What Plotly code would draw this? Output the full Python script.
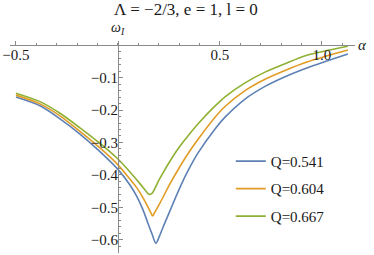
import plotly.graph_objects as go

# ---- data ----
series_names = ["Q=0.541", "Q=0.604", "Q=0.667"]
series_colors = ["#5E81B5", "#E19C24", "#8FB032"]

alpha_q1 = [-0.500, -0.382, -0.284, -0.186, -0.088, 0.000, 0.059, 0.093, 0.123, 0.147, 0.167,
            0.186, 0.206, 0.230, 0.255, 0.294, 0.343, 0.392, 0.475, 0.525, 0.623, 0.721,
            0.819, 0.926, 1.127]
omega_q1 = [-0.160, -0.187, -0.227, -0.274, -0.328, -0.383, -0.431, -0.467, -0.508, -0.549, -0.582,
            -0.611, -0.585, -0.548, -0.511, -0.453, -0.388, -0.333, -0.259, -0.222, -0.166, -0.127,
            -0.097, -0.070, -0.027]

alpha_q2 = [-0.500, -0.382, -0.284, -0.186, -0.088, 0.000, 0.059, 0.093, 0.123, 0.147, 0.162,
            0.170, 0.181, 0.206, 0.255, 0.294, 0.343, 0.392, 0.475, 0.525, 0.623, 0.721,
            0.819, 0.926, 1.127]
omega_q2 = [-0.154, -0.181, -0.218, -0.266, -0.317, -0.369, -0.413, -0.440, -0.471, -0.499, -0.518,
            -0.527, -0.515, -0.487, -0.428, -0.385, -0.335, -0.291, -0.223, -0.189, -0.140, -0.105,
            -0.078, -0.052, -0.015]

alpha_q3 = [-0.500, -0.382, -0.284, -0.186, -0.088, 0.000, 0.059, 0.108, 0.137, 0.152, 0.167,
            0.181, 0.196, 0.221, 0.245, 0.294, 0.343, 0.392, 0.475, 0.525, 0.623, 0.721,
            0.819, 0.926, 1.127]
omega_q3 = [-0.148, -0.174, -0.210, -0.255, -0.303, -0.351, -0.391, -0.427, -0.450, -0.460, -0.457,
            -0.442, -0.422, -0.394, -0.368, -0.320, -0.280, -0.243, -0.188, -0.159, -0.116, -0.083,
            -0.057, -0.031, -0.003]

x_tickvals = [-0.5, 0.5, 1.0]
x_ticktext = ["\u22120.5", "0.5", "1.0"]
y_tickvals = [-0.6, -0.5, -0.4, -0.3, -0.2, -0.1]
y_ticktext = ["\u22120.6", "\u22120.5", "\u22120.4", "\u22120.3", "\u22120.2", "\u22120.1"]

title_text = "\u039b = \u22122/3, e = 1, l = 0"
x_label = "<i>\u03b1</i>"
y_label = "<i>\u03c9<sub>I</sub></i>"

X_RANGE = [-0.529, 1.162]
Y_RANGE = [-0.641, 0.013]

FONT = "Liberation Serif"
AXIS_COLOR = "#8a8a8a"
TEXT_COLOR = "#1a1a1a"

fig = go.Figure()
for a, w, name, col in zip([alpha_q1, alpha_q2, alpha_q3],
                           [omega_q1, omega_q2, omega_q3],
                           series_names, series_colors):
    fig.add_trace(go.Scatter(x=a, y=w, mode="lines", name=name, legendgroup=name,
                             line=dict(color=col, width=1.6, shape="spline", smoothing=0.8)))

# paper fractions where the axes cross zero (axes drawn through the origin)
x_pos = (0 - Y_RANGE[0]) / (Y_RANGE[1] - Y_RANGE[0])
y_pos = (0 - X_RANGE[0]) / (X_RANGE[1] - X_RANGE[0])

fig.update_layout(
    template="none",
    width=374, height=255,
    margin=dict(l=10, r=19, t=41, b=2, autoexpand=False),
    paper_bgcolor="white", plot_bgcolor="white",
    font=dict(family=FONT, size=14, color=TEXT_COLOR),
    title=dict(text=title_text, x=0.51, xanchor="center", xref="paper",
               y=0.966, yanchor="middle", yref="container",
               font=dict(family=FONT, size=17, color=TEXT_COLOR)),
    showlegend=True,
    legend=dict(x=0.64, y=0.51, xanchor="left", yanchor="top", bgcolor="rgba(0,0,0,0)",
                font=dict(family=FONT, size=15, color=TEXT_COLOR), tracegroupgap=5,
                itemwidth=30, borderwidth=0),
    xaxis=dict(range=X_RANGE, anchor="free", position=x_pos, side="bottom", automargin=False,
               showgrid=False, zeroline=False, showline=True, linecolor=AXIS_COLOR, linewidth=1,
               tickvals=x_tickvals, ticktext=x_ticktext, ticks="inside", ticklen=4,
               ticklabelstandoff=-4,
               tickcolor=AXIS_COLOR, tickfont=dict(family=FONT, size=15, color=TEXT_COLOR),
               minor=dict(dtick=0.1, tick0=0, ticks="inside", ticklen=2.5, tickcolor=AXIS_COLOR,
                          showgrid=False)),
    yaxis=dict(range=Y_RANGE, anchor="free", position=y_pos, side="left", automargin=False,
               showgrid=False, zeroline=False, showline=True, linecolor=AXIS_COLOR, linewidth=1,
               tickvals=y_tickvals, ticktext=y_ticktext, ticks="inside", ticklen=4,
               ticklabelstandoff=-3,
               tickcolor=AXIS_COLOR, tickfont=dict(family=FONT, size=15, color=TEXT_COLOR),
               minor=dict(dtick=0.02, tick0=0, ticks="inside", ticklen=2.5, tickcolor=AXIS_COLOR,
                          showgrid=False)),
    annotations=[
        dict(text=x_label, x=1.021, y=x_pos, xref="paper", yref="paper", showarrow=False,
             xanchor="center", yanchor="middle", font=dict(family=FONT, size=15, color=TEXT_COLOR)),
        dict(text=y_label, x=y_pos, y=1.058, xref="paper", yref="paper", showarrow=False,
             xanchor="center", yanchor="middle", font=dict(family=FONT, size=14, color=TEXT_COLOR)),
    ],
)

fig.write_html("out.html", config={"displayModeBar": False, "staticPlot": True},
               post_script="document.body.style.margin='0';document.body.style.padding='0';")
